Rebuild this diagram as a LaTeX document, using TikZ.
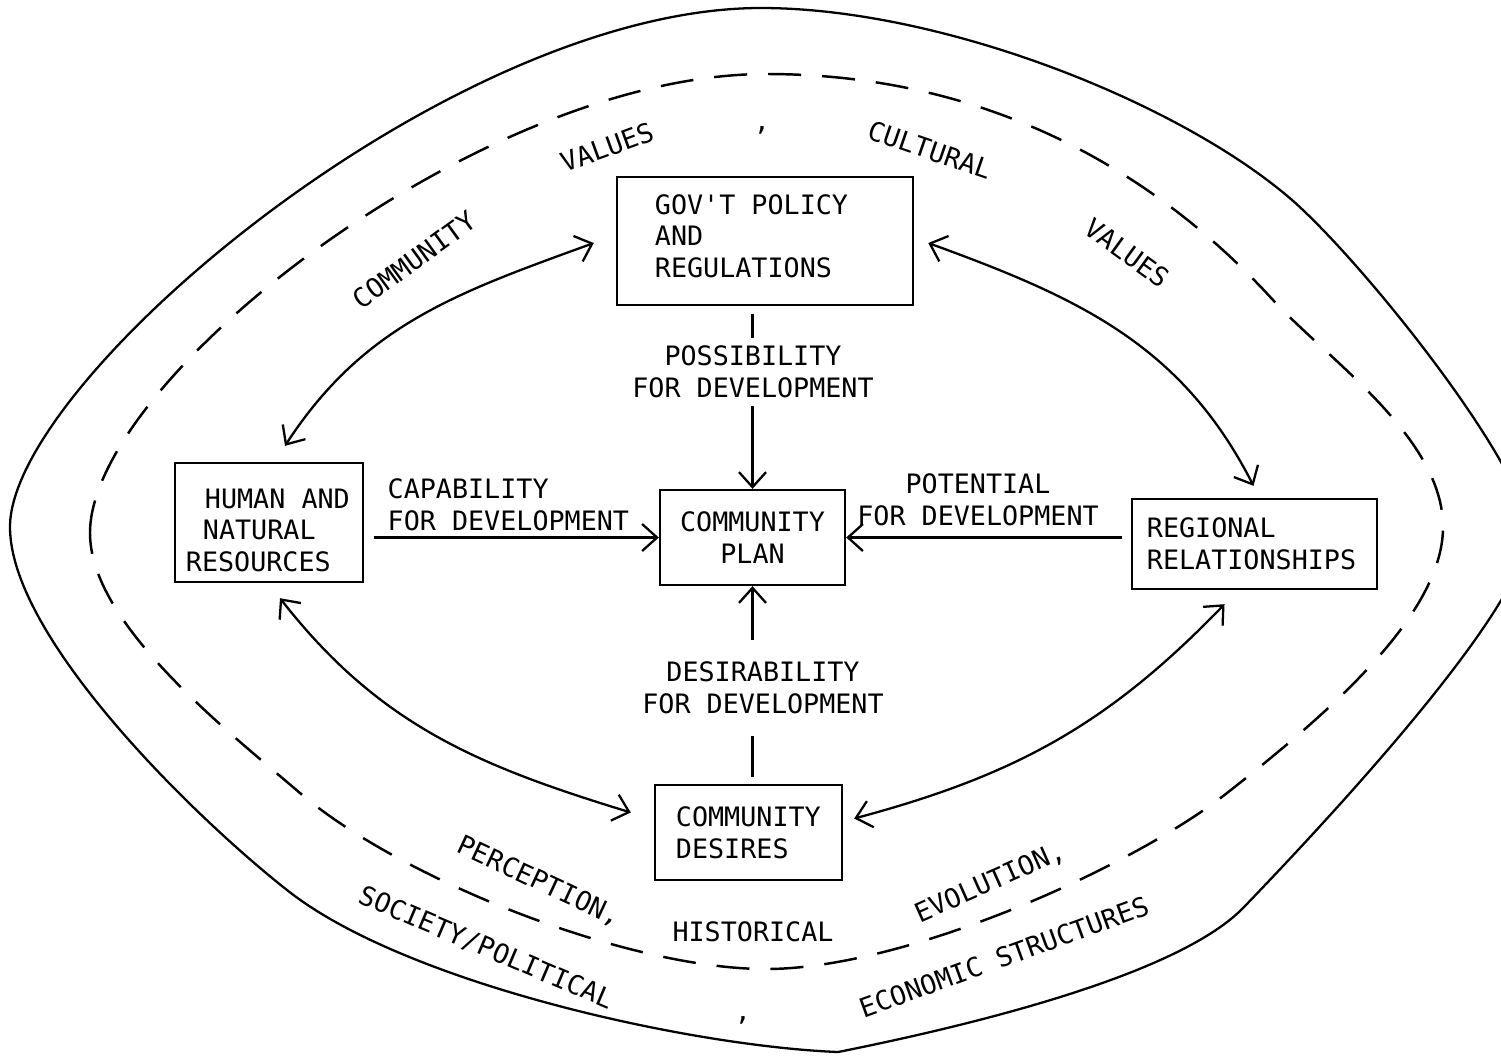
\documentclass[tikz,border=0pt]{standalone}
\usepackage{fontspec}
\setmonofont{DejaVu Sans Mono}[WordSpace={1,0,0}]
\usetikzlibrary{arrows.meta,calc}
\newcommand\fixedspaces{\spaceskip=\fontdimen2\font\relax\xspaceskip=\fontdimen2\font\relax}
\begin{document}
\begin{tikzpicture}[x=0.01cm,y=-0.01cm,
  every node/.append style={font=\ttfamily\fontsize{7.6}{9}\selectfont\fixedspaces},
  ln/.style={line width=0.65pt},
  box/.style={draw,ln,inner ysep=0pt},
  arr/.style={ln,-{Straight Barb[length=0.15cm,width=0.27cm]}},
  dbl/.style={ln,{Straight Barb[length=0.15cm,width=0.27cm]}-{Straight Barb[length=0.15cm,width=0.27cm]}},
  lbl/.style={inner sep=0pt},
  arctext/.style={inner sep=0pt},
  ringdash/.style={line width=0.7pt,dash pattern=on 0.33cm off 0.21cm}
]
\useasboundingbox (0,0) rectangle (1501,1057);
\fill[white] (0,0) rectangle (1501,1057);

% outer solid lens (its right tip runs off the page)
\begin{scope}
\clip (0,0) rectangle (1501,1057);
\draw[ln] (10,527) .. controls (10,380) and (450,8) .. (761,8)
  .. controls (941,8) and (1179,102) .. (1292,200)
  .. controls (1367,266) and (1528,470) .. (1528,532)
  .. controls (1528,602) and (1348,799) .. (1244,907)
  .. controls (1182,972) and (988,1022) .. (838,1052)
  .. controls (688,1046) and (404,983) .. (287,890)
  .. controls (193,816) and (10,637) .. (10,527) -- cycle;
\end{scope}

% inner dashed lens
\draw[ringdash] (90,533) .. controls (90,380) and (480,74) .. (766,74)
  .. controls (1000,74) and (1165,182) .. (1273,300)
  .. controls (1327,359) and (1443,437) .. (1443,527)
  .. controls (1443,617) and (1321,719) .. (1227,793)
  .. controls (1133,867) and (906,969) .. (766,969)
  .. controls (626,969) and (399,878) .. (300,793)
  .. controls (224,728) and (90,623) .. (90,533) -- cycle;

% boxes
\node[box,inner xsep=0.38cm,text width=2.2cm,minimum height=1.28cm,align=flush left] (gov) at (765,241)
  {\fixedspaces GOV'T POLICY\\AND\\REGULATIONS\rule[-2.9pt]{0pt}{2.9pt}};
\node[box,inner xsep=0.11cm,text width=1.66cm,minimum height=1.19cm,align=flush left] (human) at (269,522.5)
  {\fixedspaces\rule{0pt}{10pt}\hspace*{0.19cm}HUMAN AND\\\hspace*{0.17cm}NATURAL\\RESOURCES};
\node[box,inner xsep=0.1cm,text width=1.65cm,minimum height=0.95cm,align=center] (plan) at (752.5,537.5)
  {COMMUNITY\\PLAN};
\node[box,inner xsep=0.15cm,text width=2.15cm,minimum height=0.9cm,align=flush left] (regional) at (1254.5,544)
  {REGIONAL\\RELATIONSHIPS};
\node[box,inner xsep=0.21cm,text width=1.45cm,minimum height=0.95cm,align=flush left] (desires) at (748.5,832.5)
  {COMMUNITY\\DESIRES};

% connector labels
\node[lbl,anchor=west,align=left] (capl) at (387,505) {CAPABILITY\\FOR DEVELOPMENT};
\node[lbl,align=center] (potl) at (978,500) {POTENTIAL\\FOR DEVELOPMENT};
\node[lbl,align=center,minimum height=0.67cm] (posl) at (753,372) {POSSIBILITY\\FOR DEVELOPMENT};
\node[lbl,align=center,minimum height=0.95cm] (desl) at (763,688) {DESIRABILITY\\FOR DEVELOPMENT};

% straight connectors
\draw[ln] ($(gov.south -| plan.north)+(0,8)$) -- (posl.north -| plan.north);
\draw[arr] (posl.south -| plan.north) -- (plan.north);
\draw[arr] (desl.north -| plan.south) -- (plan.south);
\draw[ln] ($(desires.north -| plan.south)+(0,-7)$) -- (desl.south -| plan.south);
\draw[arr] ($(human.east |- plan.west)+(10,0)$) -- (plan.west);
\draw[arr] ($(regional.west |- plan.east)+(-9,0)$) -- (plan.east);

% curved double-headed connectors
\draw[dbl] ($(gov.west)+(-22,2)$) to[out=200,in=57] ($(human.north)+(16,-16)$);
\draw[dbl] ($(gov.east)+(14,2)$) to[out=340,in=117] ($(regional.north)+(-1,-12)$);
\draw[dbl] ($(human.south)+(11,15)$) to[out=308,in=163] ($(desires.west)+(-23,-20)$);
\draw[dbl] ($(regional.south)+(-30,14)$) to[out=226,in=15] ($(desires.east)+(11,-14)$);

% ring texts (top)
\node[arctext,rotate=36] (t1) at (414,260) {COMMUNITY};
\node[arctext,rotate=20] (t2) at (607,147) {VALUES};
\node[arctext] (t3) at (762,130) {,};
\node[arctext,rotate=-19] (t4) at (930,150) {CULTURAL};
\node[arctext,rotate=-36] (t5) at (1127,253) {VALUES};
% ring texts (bottom)
\node[arctext,rotate=-25] (b1) at (539,882) {PERCEPTION,};
\node[arctext] (b2) at (753,932) {HISTORICAL};
\node[arctext,rotate=24] (b3) at (990,883) {EVOLUTION,};
\node[arctext,rotate=-23] (b4) at (486,948) {SOCIETY/POLITICAL};
\node[arctext,rotate=20] (b5) at (1004,957) {ECONOMIC STRUCTURES};
\node[arctext] (b6) at (743,1020) {,};
\end{tikzpicture}
\end{document}
